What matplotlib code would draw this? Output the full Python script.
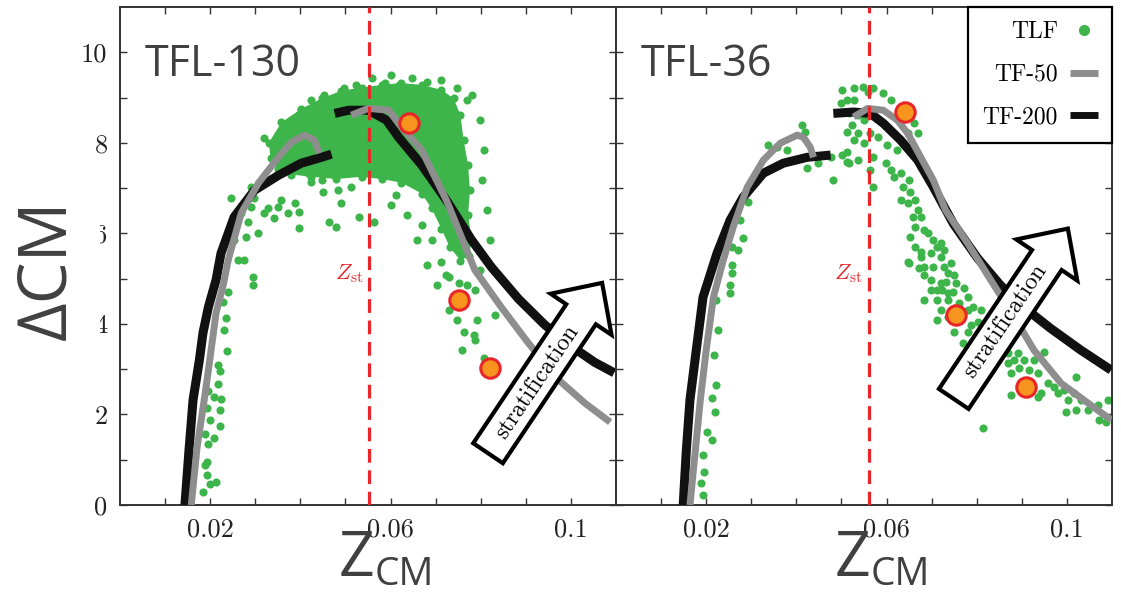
import matplotlib
matplotlib.use("Agg")
import matplotlib.pyplot as plt
import matplotlib.patches as mpatches
from matplotlib.lines import Line2D

# ---------------- data ----------------
# TFL-130 panel: individual TLF points
left_pts_x = [
    0.0240, 0.0229, 0.0236, 0.0231, 0.0238, 0.0218, 0.0222, 0.0218, 0.0196, 0.0209,
    0.0224, 0.0193, 0.0222, 0.0200, 0.0222, 0.0189, 0.0209, 0.0196, 0.0193, 0.0189,
    0.0193, 0.0213, 0.0200, 0.0184, 0.0296,
    0.0247, 0.0253, 0.0280, 0.0262, 0.0276, 0.0296, 0.0253, 0.0269, 0.0284, 0.0291,
    0.0298, 0.0320, 0.0342, 0.0307, 0.0329, 0.0351, 0.0387, 0.0396, 0.0373, 0.0291,
    0.0313, 0.0358, 0.0398, 0.0464, 0.0480, 0.0531, 0.0564, 0.0491, 0.0451, 0.0484,
    0.0513, 0.0580, 0.0447, 0.0424, 0.0418,
    0.0320, 0.0351, 0.0380, 0.0402, 0.0424, 0.0453, 0.0496, 0.0524, 0.0587, 0.0618,
    0.0447, 0.0476, 0.0647, 0.0680, 0.0713, 0.0747, 0.0769, 0.0558, 0.0602,
    0.0780, 0.0798, 0.0807, 0.0802, 0.0813, 0.0820, 0.0798, 0.0769, 0.0713, 0.0691,
    0.0669, 0.0724, 0.0702, 0.0680, 0.0658, 0.0636, 0.0602, 0.0613,
    0.0729, 0.0751, 0.0787, 0.0729, 0.0747, 0.0791, 0.0831, 0.0762, 0.0784, 0.0787,
    0.0758, 0.0807,
]
left_pts_y = [
    4.70, 4.48, 4.13, 3.86, 3.40, 3.09, 2.96, 2.67, 2.52, 2.38,
    2.34, 2.14, 2.10, 1.88, 1.74, 1.57, 1.48, 1.35, 0.95, 0.88,
    0.66, 0.51, 0.46, 0.29, 4.86,
    6.78, 5.85, 5.92, 5.41, 5.41, 5.03, 6.36, 6.45, 6.25, 6.58,
    6.78, 6.45, 6.34, 6.00, 6.56, 6.58, 6.67, 6.11, 6.45, 7.02,
    7.13, 6.73, 6.47, 6.25, 6.14, 6.36, 6.25, 6.67, 6.91, 6.95,
    7.02, 7.24, 7.17, 7.13, 7.33,
    8.10, 8.17, 8.50, 8.72, 8.94, 9.05, 9.21, 9.27, 9.32, 9.27,
    8.68, 8.94, 9.43, 9.34, 9.38, 9.21, 8.94, 9.43, 9.49,
    9.05, 8.50, 7.84, 7.17, 6.51, 5.85, 5.19, 4.86, 5.36, 5.85,
    6.18, 5.08, 4.86, 5.30, 5.85, 6.40, 6.62, 6.84,
    5.03, 4.90, 4.75, 4.30, 4.08, 4.08, 4.19, 3.82, 3.75, 3.64,
    3.42, 3.25,
]
# TFL-130 panel: outline of the dense TLF core
left_core_x = [
    0.0330, 0.0358, 0.0402, 0.0447, 0.0491, 0.0536, 0.0580, 0.0624, 0.0669, 0.0713,
    0.0740, 0.0755, 0.0762, 0.0772, 0.0776, 0.0772, 0.0780, 0.0774, 0.0755, 0.0731,
    0.0713, 0.0691, 0.0669, 0.0624, 0.0580, 0.0536, 0.0480, 0.0424, 0.0380, 0.0350,
    0.0334,
]
left_core_y = [
    8.00, 8.45, 8.75, 8.98, 9.15, 9.22, 9.28, 9.32, 9.28, 9.17,
    8.98, 8.61, 8.06, 7.51, 6.95, 6.40, 5.85, 5.50, 5.40, 5.70,
    6.10, 6.55, 6.88, 7.12, 7.20, 7.25, 7.20, 7.25, 7.30, 7.42,
    7.66,
]
left_sel_x = [0.0642, 0.0751, 0.0820]
left_sel_y = [8.43, 4.53, 3.02]

left_tf200_a_x = [0.0144, 0.0153, 0.0162, 0.0176, 0.0184, 0.0196, 0.0213, 0.0224,
                  0.0253, 0.0298, 0.0351, 0.0402, 0.0447, 0.0469]
left_tf200_a_y = [0.0, 1.21, 2.32, 3.20, 3.80, 4.37, 4.97, 5.56, 6.36, 6.95, 7.28,
                  7.55, 7.68, 7.75]
left_tf50_a_x = [0.0158, 0.0171, 0.0189, 0.0200, 0.0213, 0.0229, 0.0240, 0.0269,
                 0.0307, 0.0351, 0.0380, 0.0409, 0.0431, 0.0442]
left_tf50_a_y = [0.0, 1.28, 2.47, 3.27, 4.24, 4.86, 5.41, 6.45, 7.11, 7.68, 8.01,
                 8.17, 8.06, 7.77]
left_tf200_b_x = [0.0476, 0.0507, 0.0551, 0.0591, 0.0618, 0.0669, 0.0724, 0.0780,
                  0.0824, 0.0884, 0.0942, 0.1009, 0.1053, 0.1096]
left_tf200_b_y = [8.65, 8.72, 8.72, 8.50, 8.12, 7.51, 6.73, 5.85, 5.25, 4.55, 3.98,
                  3.45, 3.15, 2.92]
left_tf50_b_x = [0.0513, 0.0551, 0.0596, 0.0618, 0.0669, 0.0724, 0.0787, 0.0847,
                 0.0907, 0.0973, 0.1031, 0.1087]
left_tf50_b_y = [8.61, 8.76, 8.72, 8.43, 7.84, 6.73, 5.19, 4.35, 3.56, 2.76, 2.25,
                 1.83]

# TFL-36 panel
right_pts_x = [
    0.0502, 0.0527, 0.0547, 0.0513, 0.0527, 0.0558, 0.0571, 0.0593, 0.0609, 0.0498,
    0.0516, 0.0536, 0.0549, 0.0524, 0.0513, 0.0536, 0.0564, 0.0580, 0.0527, 0.0549,
    0.0513, 0.0536, 0.0516, 0.0569, 0.0564, 0.0569, 0.0602, 0.0624, 0.0647, 0.0669,
    0.0660, 0.0598, 0.0609, 0.0616, 0.0631, 0.0649, 0.0636, 0.0653, 0.0631, 0.0647,
    0.0664, 0.0669, 0.0658, 0.0676, 0.0664, 0.0682, 0.0693, 0.0653, 0.0704, 0.0713,
    0.0698, 0.0676, 0.0720, 0.0664, 0.0704, 0.0727, 0.0736, 0.0682, 0.0698, 0.0720,
    0.0713, 0.0736, 0.0649,
    0.0413, 0.0420, 0.0338, 0.0358, 0.0380, 0.0424, 0.0447, 0.0476, 0.0482, 0.0513,
    0.0293, 0.0276, 0.0282, 0.0258, 0.0271, 0.0258, 0.0258, 0.0253, 0.0253, 0.0502,
    0.0222, 0.0227, 0.0218, 0.0222, 0.0213, 0.0220, 0.0202, 0.0213, 0.0193, 0.0196,
    0.0189, 0.0193,
    0.0720, 0.0676, 0.0727, 0.0647, 0.0671, 0.0742, 0.0749, 0.0682, 0.0731, 0.0753,
    0.0698, 0.0724, 0.0747, 0.0771, 0.0780, 0.0682, 0.0713, 0.0736, 0.0760, 0.0791,
    0.0720, 0.0749, 0.0780, 0.0809, 0.0713, 0.0736, 0.0764, 0.0787, 0.0802, 0.0749,
    0.0780, 0.0769, 0.0787, 0.0809, 0.0824, 0.0847, 0.0869, 0.0891, 0.0882, 0.0904,
    0.0927, 0.0916, 0.0876, 0.0869, 0.0893, 0.0936, 0.0949, 0.0898, 0.0920, 0.0942,
    0.0958, 0.0971, 0.0980, 0.0993, 0.1002, 0.1016, 0.1020, 0.1031, 0.0998, 0.1020,
    0.1047, 0.1069, 0.1091, 0.1071, 0.1087, 0.0876, 0.0936, 0.0813,
]
right_pts_y = [
    9.16, 9.21, 9.23, 8.94, 8.94, 9.12, 9.21, 9.09, 8.94, 8.87,
    8.65, 8.61, 8.50, 8.39, 8.23, 8.21, 8.21, 8.12, 8.06, 7.99,
    7.79, 7.62, 7.55, 7.68, 7.40, 7.02, 7.95, 7.84, 8.21, 8.21,
    8.43, 7.55, 7.40, 7.24, 7.33, 7.17, 7.02, 6.91, 6.73, 6.67,
    6.73, 6.51, 6.36, 6.36, 6.14, 6.07, 6.00, 5.92, 5.85, 5.70,
    5.56, 5.47, 5.47, 5.70, 5.25, 5.25, 5.12, 5.25, 4.97, 4.90,
    4.75, 4.68, 5.34,
    8.39, 8.23, 7.95, 7.90, 7.84, 7.44, 7.55, 7.68, 7.17, 7.57,
    6.69, 6.29, 5.89, 5.70, 5.63, 5.30, 5.12, 4.86, 4.68, 7.73,
    4.53, 3.86, 3.31, 2.65, 2.36, 2.05, 1.61, 1.43, 1.10, 0.73,
    0.49, 0.22,
    5.78, 5.59, 5.63, 5.36, 5.23, 5.34, 5.08, 5.08, 4.92, 4.90,
    4.75, 4.75, 4.70, 4.79, 4.59, 4.53, 4.53, 4.53, 4.46, 4.37,
    4.30, 4.35, 4.30, 4.30, 4.08, 4.15, 4.13, 3.97, 4.04, 3.82,
    3.82, 3.58, 3.49, 3.60, 3.42, 3.49, 3.36, 3.36, 3.20, 3.20,
    3.20, 2.98, 2.91, 3.13, 3.02, 2.91, 3.38, 2.72, 2.60, 2.47,
    2.69, 2.60, 2.47, 2.54, 2.32, 2.47, 2.83, 2.32, 2.05, 2.10,
    2.10, 2.21, 2.32, 1.88, 1.83, 2.43, 2.38, 1.70,
]
right_sel_x = [0.0640, 0.0753, 0.0909]
right_sel_y = [8.68, 4.19, 2.60]

right_tf200_a_x = [0.0149, 0.0156, 0.0164, 0.0178, 0.0193, 0.0224, 0.0253, 0.0282,
                   0.0327, 0.0371, 0.0424, 0.0476]
right_tf200_a_y = [0.0, 1.21, 2.32, 3.42, 4.59, 5.56, 6.29, 6.80, 7.33, 7.55, 7.68,
                   7.73]
right_tf50_a_x = [0.0164, 0.0176, 0.0187, 0.0200, 0.0216, 0.0238, 0.0260, 0.0291,
                  0.0327, 0.0364, 0.0402, 0.0416, 0.0431, 0.0438]
right_tf50_a_y = [0.0, 1.21, 2.32, 3.42, 4.59, 5.41, 6.14, 7.02, 7.62, 7.99, 8.17,
                  8.12, 7.90, 7.68]
right_tf200_b_x = [0.0482, 0.0527, 0.0564, 0.0593, 0.0631, 0.0669, 0.0704, 0.0749,
                   0.0802, 0.0853, 0.0913, 0.0964, 0.1031, 0.1098]
right_tf200_b_y = [8.65, 8.68, 8.65, 8.43, 8.06, 7.62, 7.02, 6.20, 5.45, 4.85, 4.30,
                   3.90, 3.42, 2.98]
right_tf50_b_x = [0.0527, 0.0558, 0.0593, 0.0624, 0.0647, 0.0676, 0.0704, 0.0731,
                  0.0780, 0.0831, 0.0882, 0.0927, 0.0987, 0.1047, 0.1098]
right_tf50_b_y = [8.57, 8.76, 8.72, 8.50, 8.21, 7.68, 7.17, 6.51, 5.78, 4.97, 4.17,
                  3.42, 2.69, 2.25, 1.88]

z_st = [0.0553, 0.0560]
panel_names = ["TFL-130", "TFL-36"]

x_ticks = [0.01, 0.02, 0.03, 0.04, 0.05, 0.06, 0.07, 0.08, 0.09, 0.10]
x_ticklabels = ["", "0.02", "", "", "", "0.06", "", "", "", "0.1"]
y_ticks = [0, 1, 2, 3, 4, 5, 6, 7, 8, 9, 10]
y_ticklabels = ["0", "", "2", "", "4", "", "6", "", "8", "", "10"]

# ---------------- style ----------------
GREEN = "#3db54a"
GRAY = "#8e8e8e"
BLACK = "#111111"
RED = "#e8262a"
ORANGE = "#f7941d"
TXT = "#404040"
SANS = ["Open Sans", "DejaVu Sans"]
SERIF = "cmr10"

plt.rcParams["mathtext.fontset"] = "cm"
plt.rcParams["axes.formatter.use_mathtext"] = True

fig = plt.figure(figsize=(11.21, 5.92), dpi=100)
W, H = 1121, 592
ax1 = fig.add_axes([120 / W, (H - 505) / H, 496 / W, 498 / H])
ax2 = fig.add_axes([616 / W, (H - 505) / H, 496 / W, 498 / H])

panels = [
    (ax1, left_pts_x, left_pts_y, left_sel_x, left_sel_y,
     (left_tf200_a_x, left_tf200_a_y), (left_tf200_b_x, left_tf200_b_y),
     (left_tf50_a_x, left_tf50_a_y), (left_tf50_b_x, left_tf50_b_y)),
    (ax2, right_pts_x, right_pts_y, right_sel_x, right_sel_y,
     (right_tf200_a_x, right_tf200_a_y), (right_tf200_b_x, right_tf200_b_y),
     (right_tf50_a_x, right_tf50_a_y), (right_tf50_b_x, right_tf50_b_y)),
]

arrows = [
    # tail (axes frac), text centre
    ((0.742, 0.104), (0.841, 0.247)),
    ((0.681, 0.213), (0.784, 0.369)),
]

for i, (ax, px, py, sx, sy, k200a, k200b, k50a, k50b) in enumerate(panels):
    if i == 0:
        ax.fill(left_core_x, left_core_y, color=GREEN, lw=0, zorder=2)
        ax.scatter(left_core_x, left_core_y, s=34, color=GREEN, lw=0, zorder=2)
    ax.scatter(px, py, s=34, color=GREEN, lw=0, zorder=2)

    for xs, ys in (k200a, k200b):
        ax.plot(xs, ys, color=BLACK, lw=6.5, solid_capstyle="butt",
                solid_joinstyle="round", zorder=3)
    for xs, ys in (k50a, k50b):
        ax.plot(xs, ys, color=GRAY, lw=5, solid_capstyle="butt",
                solid_joinstyle="round", zorder=4)

    ax.axvline(z_st[i], color=RED, lw=2.3, ls=(0, (4.3, 2.4)), zorder=5)
    ax.text(z_st[i] - 0.0013, 5.1, r"$Z_{\rm st}$", color=RED, fontsize=16,
            ha="right", va="center", zorder=5)

    ax.plot(sx, sy, ls="none", marker="o", ms=14, mfc=ORANGE, mec=RED,
            mew=2.2, zorder=6)

    (tx, ty), (cx, cy) = arrows[i]
    arr = mpatches.FancyArrow(tx, ty, 0.230, 0.342, width=0.072,
                              head_width=0.148, head_length=0.076,
                              length_includes_head=True, transform=ax.transAxes,
                              fc="white", ec="black", lw=3, zorder=7,
                              joinstyle="miter")
    ax.add_patch(arr)
    ax.text(cx, cy, "stratification", transform=ax.transAxes, rotation=56,
            rotation_mode="anchor", ha="center", va="center", fontsize=17,
            family=SERIF, zorder=8)

    ax.text(0.05, 0.885, panel_names[i], transform=ax.transAxes, fontsize=31,
            family=SANS, color=TXT, ha="left", va="center")

    # x label drawn as Z + subscript CM
    ax.text(0.512, -0.143, "Z", transform=ax.transAxes, fontsize=45,
            family=SANS, color=TXT, ha="right", va="baseline")
    ax.text(0.514, -0.160, "CM", transform=ax.transAxes, fontsize=28,
            family=SANS, color=TXT, ha="left", va="baseline")

    ax.set_xlim(0, 0.11)
    ax.set_ylim(0, 11)
    ax.set_xticks(x_ticks)
    ax.set_xticklabels(x_ticklabels, family=SERIF, fontsize=19)
    ax.set_yticks(y_ticks)
    ax.set_yticklabels(y_ticklabels, family=SERIF, fontsize=19)
    ax.tick_params(direction="in", length=5, width=1, top=True, right=True,
                   pad=9, colors="#333333")
    ax.tick_params(axis="x", labelcolor="#222222")
    ax.tick_params(axis="y", labelcolor="#222222")
    for sp in ax.spines.values():
        sp.set_color("#333333")
        sp.set_linewidth(1.4)

ax2.tick_params(labelleft=False)

# big y label; its white box half-hides the 6 and 4 tick labels as in the source
ax1.text(-0.147, 0.472, "\u0394CM", transform=ax1.transAxes, rotation=90,
         fontsize=48, family=SANS, color=TXT, ha="center", va="center",
         zorder=10, bbox=dict(fc="white", ec="none", pad=14))

handles = [
    Line2D([], [], ls="none", marker="o", ms=7, color=GREEN),
    Line2D([], [], color=GRAY, lw=5, solid_capstyle="butt"),
    Line2D([], [], color=BLACK, lw=5, solid_capstyle="butt"),
]
leg = ax2.legend(handles, ["TLF", "TF-50", "TF-200"], loc="upper right",
                 borderaxespad=0, markerfirst=False, fancybox=False,
                 prop={"family": SERIF, "size": 17}, handlelength=1.2,
                 handletextpad=0.5, labelspacing=0.87, borderpad=0.6,
                 framealpha=1)
leg.get_frame().set_edgecolor("black")
leg.get_frame().set_linewidth(1.6)
leg.set_zorder(10)

fig.savefig("out.png", dpi=100)
